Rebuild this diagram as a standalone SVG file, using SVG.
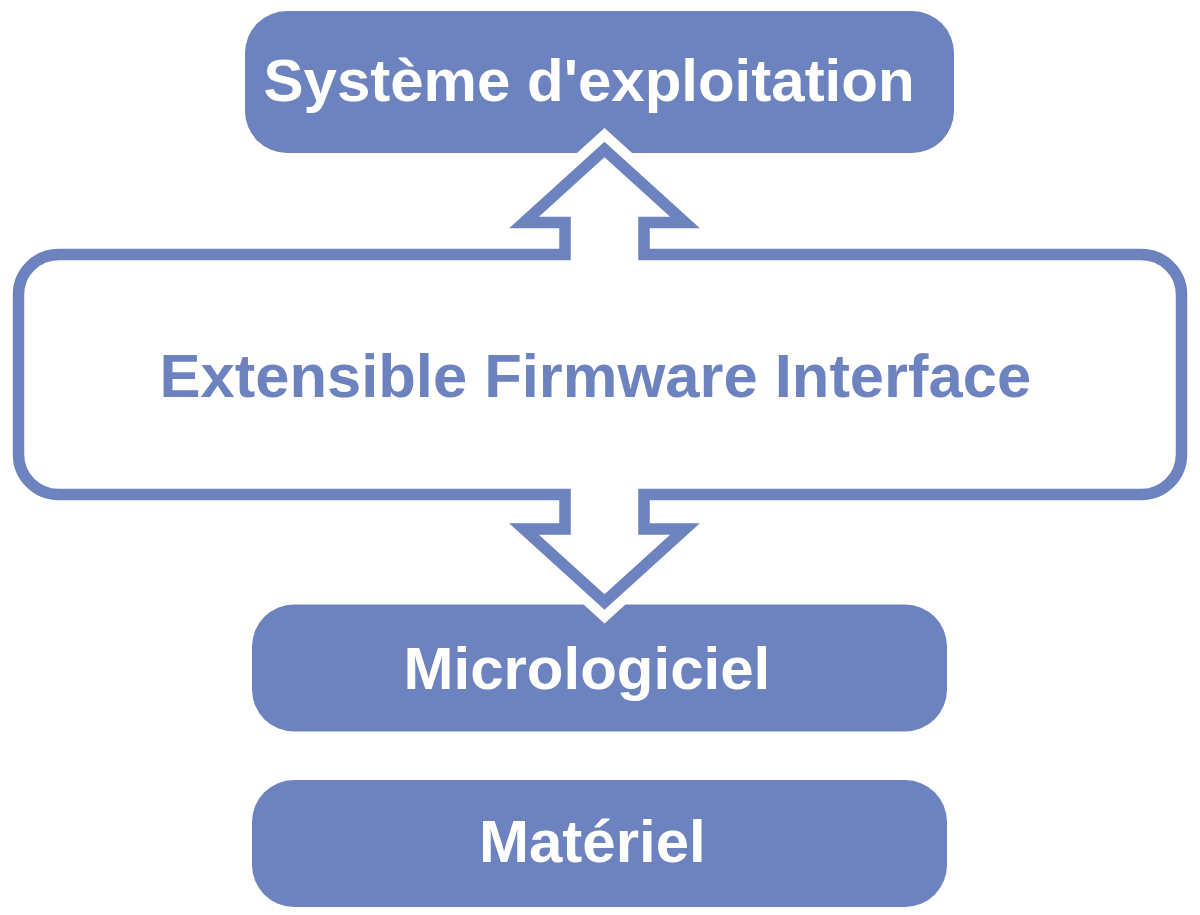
<svg xmlns="http://www.w3.org/2000/svg" width="1200" height="915" viewBox="0 0 1200 915">
<style>
.box{fill:#6d83bf}
.lbl{font-family:"Liberation Sans",Arial,sans-serif;font-weight:bold;font-size:60px;fill:#ffffff}
.efi{font-family:"Liberation Sans",Arial,sans-serif;font-weight:bold;font-size:61.5px;fill:#6d83bf}
.halo{fill:#ffffff;stroke:#ffffff;stroke-width:32;stroke-linejoin:miter}
.outline{fill:none;stroke:#6d83bf;stroke-width:11.5;stroke-linejoin:miter}
</style>
<defs>
<path id="efiShape" d="M565,254.5 L565,222.5 L524,222.5 L604.5,149.5 L685,222.5 L644,222.5 L644,254.5 L1141.5,254.5 A40,40 0 0 1 1181.5,294.5 L1181.5,454.5 A40,40 0 0 1 1141.5,494.5 L644,494.5 L644,529 L685,529 L604.5,602 L524,529 L565,529 L565,494.5 L58.5,494.5 A40,40 0 0 1 18.5,454.5 L18.5,294.5 A40,40 0 0 1 58.5,254.5 Z"/>
</defs>
<g id="os">
<rect class="box" x="245" y="11" width="709" height="142" rx="42" ry="42"/>
<text class="lbl" x="263.5" y="101">Système d'exploitation</text>
</g>
<g id="micro">
<rect class="box" x="252" y="604.5" width="695" height="127" rx="42" ry="42"/>
<text class="lbl" x="403.5" y="689">Micrologiciel</text>
</g>
<g id="materiel">
<rect class="box" x="252" y="780" width="695" height="127" rx="42" ry="42"/>
<text class="lbl" x="479" y="862">Matériel</text>
</g>
<g id="connectors">
<use href="#efiShape" class="halo"/>
<use href="#efiShape" class="outline"/>
</g>
<g id="efi">
<text class="efi" x="159.5" y="397">Extensible Firmware Interface</text>
</g>
</svg>
